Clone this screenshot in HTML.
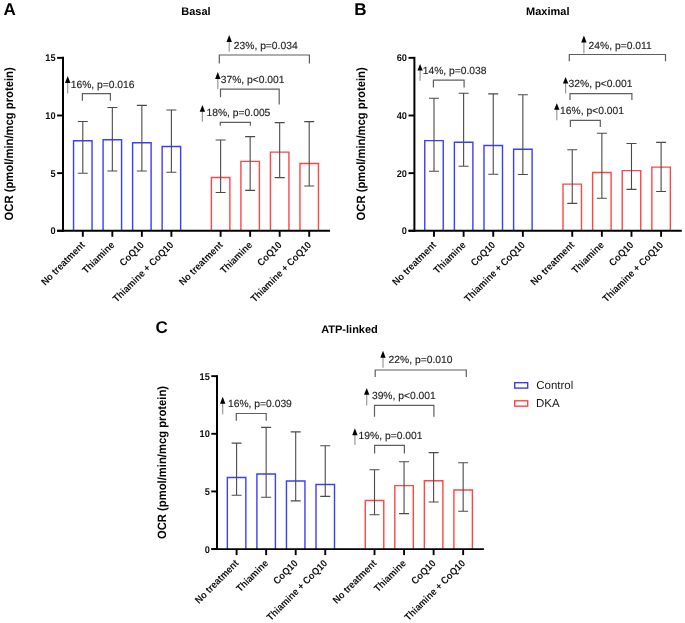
<!DOCTYPE html><html><head><meta charset="utf-8"><title>OCR charts</title><style>html,body{margin:0;padding:0;background:#fff;}svg{display:block;will-change:transform;text-rendering:geometricPrecision;font-family:"Liberation Sans",sans-serif;}</style></head><body>
<svg width="685" height="623" viewBox="0 0 685 623">
<rect width="685" height="623" fill="#fff"/>
<path d="M73.55 230.8V140.75H92.05V230.8" fill="none" stroke="#3c3cff" stroke-width="1.4"/>
<path d="M103.08 230.8V139.75H121.58V230.8" fill="none" stroke="#3c3cff" stroke-width="1.4"/>
<path d="M132.61 230.8V142.75H151.11V230.8" fill="none" stroke="#3c3cff" stroke-width="1.4"/>
<path d="M162.14 230.8V146.45H180.64V230.8" fill="none" stroke="#3c3cff" stroke-width="1.4"/>
<path d="M211.37 230.8V177.45H229.87V230.8" fill="none" stroke="#ff4646" stroke-width="1.4"/>
<path d="M240.9 230.8V161.35H259.4V230.8" fill="none" stroke="#ff4646" stroke-width="1.4"/>
<path d="M270.43 230.8V152.15H288.93V230.8" fill="none" stroke="#ff4646" stroke-width="1.4"/>
<path d="M299.96 230.8V163.55H318.46V230.8" fill="none" stroke="#ff4646" stroke-width="1.4"/>
<path d="M82.8 121.5V173.2M77.8 121.5H87.8M77.8 173.2H87.8" fill="none" stroke="#4a4a4a" stroke-width="1.1"/>
<path d="M112.33 107.5V171M107.33 107.5H117.33M107.33 171H117.33" fill="none" stroke="#4a4a4a" stroke-width="1.1"/>
<path d="M141.86 105.4V171M136.86 105.4H146.86M136.86 171H146.86" fill="none" stroke="#4a4a4a" stroke-width="1.1"/>
<path d="M171.39 110V172.2M166.39 110H176.39M166.39 172.2H176.39" fill="none" stroke="#4a4a4a" stroke-width="1.1"/>
<path d="M220.62 140V192.5M215.62 140H225.62M215.62 192.5H225.62" fill="none" stroke="#4a4a4a" stroke-width="1.1"/>
<path d="M250.15 136.6V190.4M245.15 136.6H255.15M245.15 190.4H255.15" fill="none" stroke="#4a4a4a" stroke-width="1.1"/>
<path d="M279.68 122.6V177.6M274.68 122.6H284.68M274.68 177.6H284.68" fill="none" stroke="#4a4a4a" stroke-width="1.1"/>
<path d="M309.21 121.6V186M304.21 121.6H314.21M304.21 186H314.21" fill="none" stroke="#4a4a4a" stroke-width="1.1"/>
<path d="M63 56.85V231.8" stroke="#000" stroke-width="2" fill="none"/>
<path d="M57.1 230.8H330" stroke="#000" stroke-width="1.9" fill="none"/>
<path d="M57.1 230.8H63" stroke="#000" stroke-width="1.9" fill="none"/>
<text transform="translate(55.6 234.4) scale(0.97 1.03)" font-size="9.5" font-weight="bold" text-anchor="end" fill="#111">0</text>
<path d="M57.1 173.15H63" stroke="#000" stroke-width="1.9" fill="none"/>
<text transform="translate(55.6 176.75) scale(0.97 1.03)" font-size="9.5" font-weight="bold" text-anchor="end" fill="#111">5</text>
<path d="M57.1 115.5H63" stroke="#000" stroke-width="1.9" fill="none"/>
<text transform="translate(55.6 119.1) scale(0.97 1.03)" font-size="9.5" font-weight="bold" text-anchor="end" fill="#111">10</text>
<path d="M57.1 57.85H63" stroke="#000" stroke-width="1.9" fill="none"/>
<text transform="translate(55.6 61.45) scale(0.97 1.03)" font-size="9.5" font-weight="bold" text-anchor="end" fill="#111">15</text>
<path d="M82.8 230.8V236.8" stroke="#000" stroke-width="1.9" fill="none"/>
<text transform="translate(85.5 245.6) rotate(-45) scale(1 1.08)" font-size="9.25" font-weight="bold" text-anchor="end" fill="#111">No treatment</text>
<path d="M112.33 230.8V236.8" stroke="#000" stroke-width="1.9" fill="none"/>
<text transform="translate(115.03 245.6) rotate(-45) scale(1 1.08)" font-size="9.25" font-weight="bold" text-anchor="end" fill="#111">Thiamine</text>
<path d="M141.86 230.8V236.8" stroke="#000" stroke-width="1.9" fill="none"/>
<text transform="translate(144.56 245.6) rotate(-45) scale(1 1.08)" font-size="9.25" font-weight="bold" text-anchor="end" fill="#111">CoQ10</text>
<path d="M171.39 230.8V236.8" stroke="#000" stroke-width="1.9" fill="none"/>
<text transform="translate(174.09 245.6) rotate(-45) scale(1 1.08)" font-size="9.25" font-weight="bold" text-anchor="end" fill="#111">Thiamine + CoQ10</text>
<path d="M220.62 230.8V236.8" stroke="#000" stroke-width="1.9" fill="none"/>
<text transform="translate(223.32 245.6) rotate(-45) scale(1 1.08)" font-size="9.25" font-weight="bold" text-anchor="end" fill="#111">No treatment</text>
<path d="M250.15 230.8V236.8" stroke="#000" stroke-width="1.9" fill="none"/>
<text transform="translate(252.85 245.6) rotate(-45) scale(1 1.08)" font-size="9.25" font-weight="bold" text-anchor="end" fill="#111">Thiamine</text>
<path d="M279.68 230.8V236.8" stroke="#000" stroke-width="1.9" fill="none"/>
<text transform="translate(282.38 245.6) rotate(-45) scale(1 1.08)" font-size="9.25" font-weight="bold" text-anchor="end" fill="#111">CoQ10</text>
<path d="M309.21 230.8V236.8" stroke="#000" stroke-width="1.9" fill="none"/>
<text transform="translate(311.91 245.6) rotate(-45) scale(1 1.08)" font-size="9.25" font-weight="bold" text-anchor="end" fill="#111">Thiamine + CoQ10</text>
<path d="M82.4 100.7V93.7H110.4V100.7" fill="none" stroke="#5e5e5e" stroke-width="1.2"/>
<path d="M220.3 125.8V122.3H250.4V125.8" fill="none" stroke="#5e5e5e" stroke-width="1.2"/>
<path d="M220.5 97.2V89.1H279.2V104.4" fill="none" stroke="#5e5e5e" stroke-width="1.2"/>
<path d="M219.3 63.5V55H309.4V63.5" fill="none" stroke="#5e5e5e" stroke-width="1.2"/>
<path d="M67.7 82.1V93.6" stroke="#9a9a9a" stroke-width="1.2" fill="none"/>
<path d="M67.7 75.9L65 82.9L70.4 82.9Z" fill="#000"/>
<text transform="translate(70.7 88)" font-size="10.3" stroke="#1e1e1e" stroke-width="0.15" fill="#1e1e1e">16%, p=0.016</text>
<path d="M202.4 110.9V121.7" stroke="#9a9a9a" stroke-width="1.2" fill="none"/>
<path d="M202.4 105L199.7 111.7L205.1 111.7Z" fill="#000"/>
<text transform="translate(206.5 115.8)" font-size="10.3" stroke="#1e1e1e" stroke-width="0.15" fill="#1e1e1e">18%, p=0.005</text>
<path d="M217.8 78.3V89" stroke="#9a9a9a" stroke-width="1.2" fill="none"/>
<path d="M217.8 72.1L215.1 79.1L220.5 79.1Z" fill="#000"/>
<text transform="translate(220.7 83)" font-size="10.3" stroke="#1e1e1e" stroke-width="0.15" fill="#1e1e1e">37%, p&lt;0.001</text>
<path d="M229.2 41.2V51.7" stroke="#9a9a9a" stroke-width="1.2" fill="none"/>
<path d="M229.2 35.1L226.5 42L231.9 42Z" fill="#000"/>
<text transform="translate(233.8 48.65)" font-size="10.3" stroke="#1e1e1e" stroke-width="0.15" fill="#1e1e1e">23%, p=0.034</text>
<text transform="translate(195.9 14.85)" font-size="11" font-weight="bold" text-anchor="middle" fill="#000">Basal</text>
<text transform="translate(3.6 14.7)" font-size="17" font-weight="bold" fill="#000">A</text>
<text transform="translate(13.4 143.9) rotate(-90) scale(1 1.07)" font-size="11.25" font-weight="bold" text-anchor="middle" fill="#000">OCR (pmol/min/mcg protein)</text>
<path d="M424.75 230.8V140.65H443.25V230.8" fill="none" stroke="#3c3cff" stroke-width="1.4"/>
<path d="M454.37 230.8V142.25H472.87V230.8" fill="none" stroke="#3c3cff" stroke-width="1.4"/>
<path d="M483.99 230.8V145.45H502.49V230.8" fill="none" stroke="#3c3cff" stroke-width="1.4"/>
<path d="M513.61 230.8V149.25H532.11V230.8" fill="none" stroke="#3c3cff" stroke-width="1.4"/>
<path d="M562.99 230.8V184.15H581.49V230.8" fill="none" stroke="#ff4646" stroke-width="1.4"/>
<path d="M592.61 230.8V172.55H611.11V230.8" fill="none" stroke="#ff4646" stroke-width="1.4"/>
<path d="M622.23 230.8V170.65H640.73V230.8" fill="none" stroke="#ff4646" stroke-width="1.4"/>
<path d="M651.85 230.8V167.15H670.35V230.8" fill="none" stroke="#ff4646" stroke-width="1.4"/>
<path d="M434 98.2V171.3M429 98.2H439M429 171.3H439" fill="none" stroke="#4a4a4a" stroke-width="1.1"/>
<path d="M463.62 93.3V166.2M458.62 93.3H468.62M458.62 166.2H468.62" fill="none" stroke="#4a4a4a" stroke-width="1.1"/>
<path d="M493.24 93.9V174.3M488.24 93.9H498.24M488.24 174.3H498.24" fill="none" stroke="#4a4a4a" stroke-width="1.1"/>
<path d="M522.86 94.8V174.5M517.86 94.8H527.86M517.86 174.5H527.86" fill="none" stroke="#4a4a4a" stroke-width="1.1"/>
<path d="M572.24 149.8V203.4M567.24 149.8H577.24M567.24 203.4H577.24" fill="none" stroke="#4a4a4a" stroke-width="1.1"/>
<path d="M601.86 133.3V198.3M596.86 133.3H606.86M596.86 198.3H606.86" fill="none" stroke="#4a4a4a" stroke-width="1.1"/>
<path d="M631.48 143.5V189.4M626.48 143.5H636.48M626.48 189.4H636.48" fill="none" stroke="#4a4a4a" stroke-width="1.1"/>
<path d="M661.1 142.4V191.5M656.1 142.4H666.1M656.1 191.5H666.1" fill="none" stroke="#4a4a4a" stroke-width="1.1"/>
<path d="M414.4 56.85V231.8" stroke="#000" stroke-width="2" fill="none"/>
<path d="M408.5 230.8H681.8" stroke="#000" stroke-width="1.9" fill="none"/>
<path d="M408.5 230.8H414.4" stroke="#000" stroke-width="1.9" fill="none"/>
<text transform="translate(407 234.4) scale(0.97 1.03)" font-size="9.5" font-weight="bold" text-anchor="end" fill="#111">0</text>
<path d="M408.5 173.15H414.4" stroke="#000" stroke-width="1.9" fill="none"/>
<text transform="translate(407 176.75) scale(0.97 1.03)" font-size="9.5" font-weight="bold" text-anchor="end" fill="#111">20</text>
<path d="M408.5 115.5H414.4" stroke="#000" stroke-width="1.9" fill="none"/>
<text transform="translate(407 119.1) scale(0.97 1.03)" font-size="9.5" font-weight="bold" text-anchor="end" fill="#111">40</text>
<path d="M408.5 57.85H414.4" stroke="#000" stroke-width="1.9" fill="none"/>
<text transform="translate(407 61.45) scale(0.97 1.03)" font-size="9.5" font-weight="bold" text-anchor="end" fill="#111">60</text>
<path d="M434 230.8V236.8" stroke="#000" stroke-width="1.9" fill="none"/>
<text transform="translate(436.7 245.6) rotate(-45) scale(1 1.08)" font-size="9.25" font-weight="bold" text-anchor="end" fill="#111">No treatment</text>
<path d="M463.62 230.8V236.8" stroke="#000" stroke-width="1.9" fill="none"/>
<text transform="translate(466.32 245.6) rotate(-45) scale(1 1.08)" font-size="9.25" font-weight="bold" text-anchor="end" fill="#111">Thiamine</text>
<path d="M493.24 230.8V236.8" stroke="#000" stroke-width="1.9" fill="none"/>
<text transform="translate(495.94 245.6) rotate(-45) scale(1 1.08)" font-size="9.25" font-weight="bold" text-anchor="end" fill="#111">CoQ10</text>
<path d="M522.86 230.8V236.8" stroke="#000" stroke-width="1.9" fill="none"/>
<text transform="translate(525.56 245.6) rotate(-45) scale(1 1.08)" font-size="9.25" font-weight="bold" text-anchor="end" fill="#111">Thiamine + CoQ10</text>
<path d="M572.24 230.8V236.8" stroke="#000" stroke-width="1.9" fill="none"/>
<text transform="translate(574.94 245.6) rotate(-45) scale(1 1.08)" font-size="9.25" font-weight="bold" text-anchor="end" fill="#111">No treatment</text>
<path d="M601.86 230.8V236.8" stroke="#000" stroke-width="1.9" fill="none"/>
<text transform="translate(604.56 245.6) rotate(-45) scale(1 1.08)" font-size="9.25" font-weight="bold" text-anchor="end" fill="#111">Thiamine</text>
<path d="M631.48 230.8V236.8" stroke="#000" stroke-width="1.9" fill="none"/>
<text transform="translate(634.18 245.6) rotate(-45) scale(1 1.08)" font-size="9.25" font-weight="bold" text-anchor="end" fill="#111">CoQ10</text>
<path d="M661.1 230.8V236.8" stroke="#000" stroke-width="1.9" fill="none"/>
<text transform="translate(663.8 245.6) rotate(-45) scale(1 1.08)" font-size="9.25" font-weight="bold" text-anchor="end" fill="#111">Thiamine + CoQ10</text>
<path d="M433.4 87.6V80.1H464.1V87.6" fill="none" stroke="#5e5e5e" stroke-width="1.2"/>
<path d="M570.4 127V120.3H600.3V127" fill="none" stroke="#5e5e5e" stroke-width="1.2"/>
<path d="M570 100V93.6H631.9V100" fill="none" stroke="#5e5e5e" stroke-width="1.2"/>
<path d="M569.3 61.3V54.5H665.5V61.3" fill="none" stroke="#5e5e5e" stroke-width="1.2"/>
<path d="M420.1 69.6V80.7" stroke="#9a9a9a" stroke-width="1.2" fill="none"/>
<path d="M420.1 64L417.4 70.4L422.8 70.4Z" fill="#000"/>
<text transform="translate(422.7 73.9)" font-size="10.3" stroke="#1e1e1e" stroke-width="0.15" fill="#1e1e1e">14%, p=0.038</text>
<path d="M556.8 109V120.3" stroke="#9a9a9a" stroke-width="1.2" fill="none"/>
<path d="M556.8 103.2L554.1 109.8L559.5 109.8Z" fill="#000"/>
<text transform="translate(560.1 114.4)" font-size="10.3" stroke="#1e1e1e" stroke-width="0.15" fill="#1e1e1e">16%, p&lt;0.001</text>
<path d="M565.6 82.7V93.6" stroke="#9a9a9a" stroke-width="1.2" fill="none"/>
<path d="M565.6 76.9L562.9 83.5L568.3 83.5Z" fill="#000"/>
<text transform="translate(568.6 87.1)" font-size="10.3" stroke="#1e1e1e" stroke-width="0.15" fill="#1e1e1e">32%, p&lt;0.001</text>
<path d="M583.9 41.7V53.4" stroke="#9a9a9a" stroke-width="1.2" fill="none"/>
<path d="M583.9 35.6L581.2 42.5L586.6 42.5Z" fill="#000"/>
<text transform="translate(588.6 48.6)" font-size="10.3" stroke="#1e1e1e" stroke-width="0.15" fill="#1e1e1e">24%, p=0.011</text>
<text transform="translate(547.75 14.7)" font-size="11" font-weight="bold" text-anchor="middle" fill="#000">Maximal</text>
<text transform="translate(354.3 14.7)" font-size="17" font-weight="bold" fill="#000">B</text>
<text transform="translate(364.8 143.9) rotate(-90) scale(1 1.07)" font-size="11.25" font-weight="bold" text-anchor="middle" fill="#000">OCR (pmol/min/mcg protein)</text>
<path d="M227.35 549.1V477.45H245.85V549.1" fill="none" stroke="#3c3cff" stroke-width="1.4"/>
<path d="M256.9 549.1V473.95H275.4V549.1" fill="none" stroke="#3c3cff" stroke-width="1.4"/>
<path d="M286.45 549.1V480.95H304.95V549.1" fill="none" stroke="#3c3cff" stroke-width="1.4"/>
<path d="M316 549.1V484.45H334.5V549.1" fill="none" stroke="#3c3cff" stroke-width="1.4"/>
<path d="M365.26 549.1V500.55H383.76V549.1" fill="none" stroke="#ff4646" stroke-width="1.4"/>
<path d="M394.81 549.1V485.65H413.31V549.1" fill="none" stroke="#ff4646" stroke-width="1.4"/>
<path d="M424.36 549.1V480.75H442.86V549.1" fill="none" stroke="#ff4646" stroke-width="1.4"/>
<path d="M453.91 549.1V490.05H472.41V549.1" fill="none" stroke="#ff4646" stroke-width="1.4"/>
<path d="M236.6 443.1V495.3M231.6 443.1H241.6M231.6 495.3H241.6" fill="none" stroke="#4a4a4a" stroke-width="1.1"/>
<path d="M266.15 427.4V497.3M261.15 427.4H271.15M261.15 497.3H271.15" fill="none" stroke="#4a4a4a" stroke-width="1.1"/>
<path d="M295.7 431.9V500.9M290.7 431.9H300.7M290.7 500.9H300.7" fill="none" stroke="#4a4a4a" stroke-width="1.1"/>
<path d="M325.25 445.8V496.4M320.25 445.8H330.25M320.25 496.4H330.25" fill="none" stroke="#4a4a4a" stroke-width="1.1"/>
<path d="M374.51 469.8V514.8M369.51 469.8H379.51M369.51 514.8H379.51" fill="none" stroke="#4a4a4a" stroke-width="1.1"/>
<path d="M404.06 461.7V513.6M399.06 461.7H409.06M399.06 513.6H409.06" fill="none" stroke="#4a4a4a" stroke-width="1.1"/>
<path d="M433.61 452.6V502M428.61 452.6H438.61M428.61 502H438.61" fill="none" stroke="#4a4a4a" stroke-width="1.1"/>
<path d="M463.16 462.8V511.3M458.16 462.8H468.16M458.16 511.3H468.16" fill="none" stroke="#4a4a4a" stroke-width="1.1"/>
<path d="M217 375.15V550.1" stroke="#000" stroke-width="2" fill="none"/>
<path d="M211.3 549.1H483.9" stroke="#000" stroke-width="1.9" fill="none"/>
<path d="M211.3 549.1H217" stroke="#000" stroke-width="1.9" fill="none"/>
<text transform="translate(209.8 552.7) scale(0.97 1.03)" font-size="9.5" font-weight="bold" text-anchor="end" fill="#111">0</text>
<path d="M211.3 491.45H217" stroke="#000" stroke-width="1.9" fill="none"/>
<text transform="translate(209.8 495.05) scale(0.97 1.03)" font-size="9.5" font-weight="bold" text-anchor="end" fill="#111">5</text>
<path d="M211.3 433.8H217" stroke="#000" stroke-width="1.9" fill="none"/>
<text transform="translate(209.8 437.4) scale(0.97 1.03)" font-size="9.5" font-weight="bold" text-anchor="end" fill="#111">10</text>
<path d="M211.3 376.15H217" stroke="#000" stroke-width="1.9" fill="none"/>
<text transform="translate(209.8 379.75) scale(0.97 1.03)" font-size="9.5" font-weight="bold" text-anchor="end" fill="#111">15</text>
<path d="M236.6 549.1V555.1" stroke="#000" stroke-width="1.9" fill="none"/>
<text transform="translate(239.3 563.9) rotate(-45) scale(1 1.08)" font-size="9.25" font-weight="bold" text-anchor="end" fill="#111">No treatment</text>
<path d="M266.15 549.1V555.1" stroke="#000" stroke-width="1.9" fill="none"/>
<text transform="translate(268.85 563.9) rotate(-45) scale(1 1.08)" font-size="9.25" font-weight="bold" text-anchor="end" fill="#111">Thiamine</text>
<path d="M295.7 549.1V555.1" stroke="#000" stroke-width="1.9" fill="none"/>
<text transform="translate(298.4 563.9) rotate(-45) scale(1 1.08)" font-size="9.25" font-weight="bold" text-anchor="end" fill="#111">CoQ10</text>
<path d="M325.25 549.1V555.1" stroke="#000" stroke-width="1.9" fill="none"/>
<text transform="translate(327.95 563.9) rotate(-45) scale(1 1.08)" font-size="9.25" font-weight="bold" text-anchor="end" fill="#111">Thiamine + CoQ10</text>
<path d="M374.51 549.1V555.1" stroke="#000" stroke-width="1.9" fill="none"/>
<text transform="translate(377.21 563.9) rotate(-45) scale(1 1.08)" font-size="9.25" font-weight="bold" text-anchor="end" fill="#111">No treatment</text>
<path d="M404.06 549.1V555.1" stroke="#000" stroke-width="1.9" fill="none"/>
<text transform="translate(406.76 563.9) rotate(-45) scale(1 1.08)" font-size="9.25" font-weight="bold" text-anchor="end" fill="#111">Thiamine</text>
<path d="M433.61 549.1V555.1" stroke="#000" stroke-width="1.9" fill="none"/>
<text transform="translate(436.31 563.9) rotate(-45) scale(1 1.08)" font-size="9.25" font-weight="bold" text-anchor="end" fill="#111">CoQ10</text>
<path d="M463.16 549.1V555.1" stroke="#000" stroke-width="1.9" fill="none"/>
<text transform="translate(465.86 563.9) rotate(-45) scale(1 1.08)" font-size="9.25" font-weight="bold" text-anchor="end" fill="#111">Thiamine + CoQ10</text>
<path d="M236.3 420.7V413.5H266.2V420.7" fill="none" stroke="#5e5e5e" stroke-width="1.2"/>
<path d="M374.6 453.5V445.4H404.4V453.5" fill="none" stroke="#5e5e5e" stroke-width="1.2"/>
<path d="M374.5 416.8V405.4H433.9V416.8" fill="none" stroke="#5e5e5e" stroke-width="1.2"/>
<path d="M375.2 377.1V370H466.3V377.1" fill="none" stroke="#5e5e5e" stroke-width="1.2"/>
<path d="M222.7 403V414.2" stroke="#9a9a9a" stroke-width="1.2" fill="none"/>
<path d="M222.7 396.8L220 403.8L225.4 403.8Z" fill="#000"/>
<text transform="translate(228 407.3)" font-size="10.3" stroke="#1e1e1e" stroke-width="0.15" fill="#1e1e1e">16%, p=0.039</text>
<path d="M354.9 434.5V445" stroke="#9a9a9a" stroke-width="1.2" fill="none"/>
<path d="M354.9 428.2L352.2 435.3L357.6 435.3Z" fill="#000"/>
<text transform="translate(358.6 439)" font-size="10.3" stroke="#1e1e1e" stroke-width="0.15" fill="#1e1e1e">19%, p=0.001</text>
<path d="M366.7 394V405.4" stroke="#9a9a9a" stroke-width="1.2" fill="none"/>
<path d="M366.7 388.1L364 394.8L369.4 394.8Z" fill="#000"/>
<text transform="translate(371.9 399.3)" font-size="10.3" stroke="#1e1e1e" stroke-width="0.15" fill="#1e1e1e">39%, p&lt;0.001</text>
<path d="M383 357V367.8" stroke="#9a9a9a" stroke-width="1.2" fill="none"/>
<path d="M383 350.8L380.3 357.8L385.7 357.8Z" fill="#000"/>
<text transform="translate(388.6 363.4)" font-size="10.3" stroke="#1e1e1e" stroke-width="0.15" fill="#1e1e1e">22%, p=0.010</text>
<text transform="translate(349.5 333.4)" font-size="11" font-weight="bold" text-anchor="middle" fill="#000">ATP-linked</text>
<text transform="translate(155.5 333.3)" font-size="17" font-weight="bold" fill="#000">C</text>
<text transform="translate(165.9 462.5) rotate(-90) scale(1 1.07)" font-size="11.25" font-weight="bold" text-anchor="middle" fill="#000">OCR (pmol/min/mcg protein)</text>
<rect x="514.7" y="382.7" width="13" height="5.4" fill="none" stroke="#3c3cff" stroke-width="1.4"/>
<rect x="514.7" y="400.8" width="13" height="5.4" fill="none" stroke="#ff4646" stroke-width="1.4"/>
<text transform="translate(536.2 389.3)" font-size="11.5" fill="#1a1a1a">Control</text>
<text transform="translate(536 407.3)" font-size="11.5" fill="#1a1a1a">DKA</text>
</svg></body></html>
